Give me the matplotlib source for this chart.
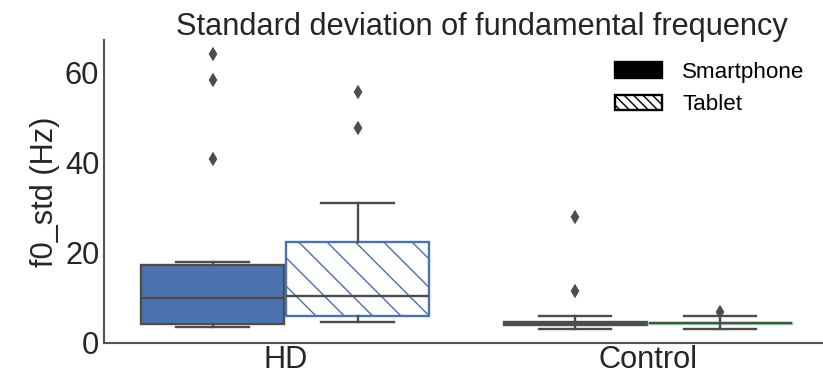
import matplotlib
matplotlib.use("Agg")
import matplotlib.pyplot as plt
from matplotlib.patches import Patch

# ---- data ----
groups = ["HD", "Control"]
devices = ["Smartphone", "Tablet"]
# [HD, Control] for each device
whislo = {"Smartphone": [3.6, 3.1], "Tablet": [4.7, 3.1]}
q1 = {"Smartphone": [4.2, 4.1], "Tablet": [6.0, 4.3]}
med = {"Smartphone": [10.0, 4.4], "Tablet": [10.4, 4.4]}
q3 = {"Smartphone": [17.3, 4.7], "Tablet": [22.4, 4.5]}
whishi = {"Smartphone": [18.0, 6.0], "Tablet": [31.1, 6.0]}
fliers = {"Smartphone": [[40.9, 58.4, 64.2], [11.6, 28.0]],
          "Tablet": [[47.8, 55.8], [6.95]]}
box_colors = {"Smartphone": ["#4C72B0", "#4C72B0"], "Tablet": ["#4C72B0", "#8fd68f"]}

title = "Standard deviation of fundamental frequency"
ylabel = "f0_std (Hz)"

DPI = 170
W, H = 824, 375
plt.rcParams["font.family"] = ["Liberation Sans", "DejaVu Sans"]
plt.rcParams["hatch.linewidth"] = 0.6

fig = plt.figure(figsize=(W / DPI, H / DPI), dpi=DPI)
ax = fig.add_axes([104 / W, (H - 343) / H, 725 / W, (343 - 40) / H])

gray = "#4d4d4d"
offsets = {"Smartphone": -0.2, "Tablet": 0.2}
for dev in devices:
    for gi, g in enumerate(groups):
        st = dict(whislo=whislo[dev][gi], q1=q1[dev][gi], med=med[dev][gi],
                  q3=q3[dev][gi], whishi=whishi[dev][gi], fliers=fliers[dev][gi])
        col = box_colors[dev][gi]
        if dev == "Smartphone":
            boxprops = dict(facecolor=col, edgecolor=gray, linewidth=1.0)
        else:
            boxprops = dict(facecolor="white", edgecolor=col, linewidth=1.0, hatch="\\\\")
        ax.bxp([st], positions=[gi + offsets[dev]], widths=0.395, patch_artist=True,
               showfliers=True, manage_ticks=False,
               boxprops=boxprops,
               medianprops=dict(color=gray, linewidth=1.0),
               whiskerprops=dict(color=gray, linewidth=1.0),
               capprops=dict(color=gray, linewidth=1.0),
               capwidths=0.2,
               flierprops=dict(marker="d", markersize=3.0, markerfacecolor=gray,
                               markeredgecolor=gray))

ax.set_xlim(-0.5, 1.5)
ax.set_ylim(0.05, 67.3)
ax.set_xticks(range(len(groups)))
ax.set_xticklabels(groups)
ax.set_yticks([0, 20, 40, 60])
ax.tick_params(axis="y", length=0, labelsize=13, colors="#262626", pad=2)
ax.tick_params(axis="x", length=0, labelsize=13, colors="#262626", pad=1)
for s in ["top", "right"]:
    ax.spines[s].set_visible(False)
for s in ["left", "bottom"]:
    ax.spines[s].set_color("#555555")
    ax.spines[s].set_linewidth(0.9)
ax.set_ylabel(ylabel, fontsize=13, color="#262626", labelpad=2)
fig.text(0.585, 0.968, title, fontsize=13, color="#262626", ha="center", va="top")

handles = [Patch(facecolor="black", edgecolor="black", label=devices[0]),
           Patch(facecolor="white", edgecolor="black", hatch="\\\\\\\\\\\\", label=devices[1])]
ax.legend(handles=handles, loc="upper left", bbox_to_anchor=(615 / W, (H - 62) / H),
          bbox_transform=fig.transFigure, frameon=False, fontsize=9.5,
          handlelength=2.1, handletextpad=0.9, borderpad=0, borderaxespad=0,
          labelspacing=0.5)

fig.savefig("out.png", dpi=DPI)
